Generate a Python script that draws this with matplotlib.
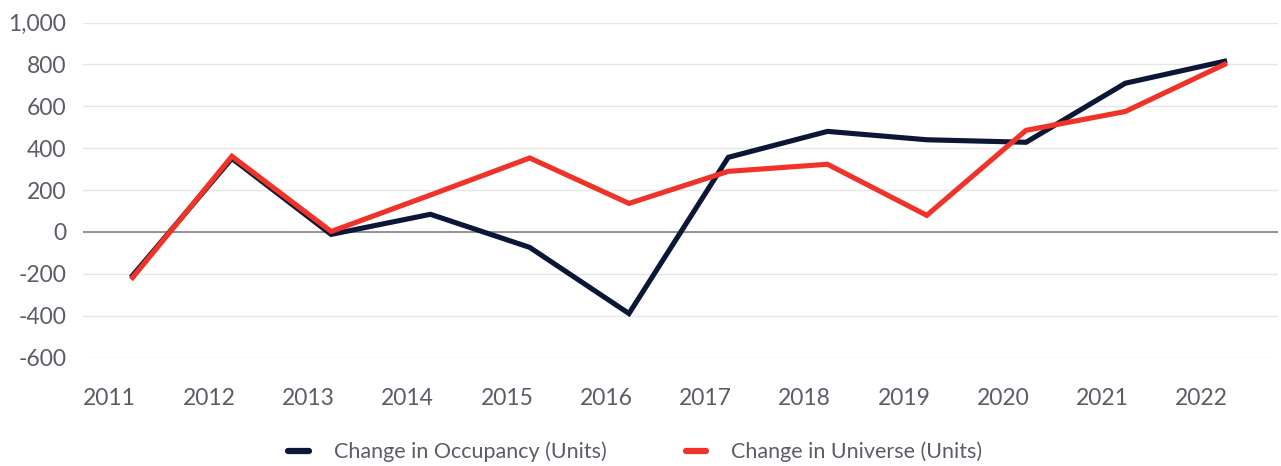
import numpy as np
import matplotlib.pyplot as plt

plt.rcParams['font.family'] = ['Lato', 'DejaVu Sans']

years = ['2011', '2012', '2013', '2014', '2015', '2016',
         '2017', '2018', '2019', '2020', '2021', '2022']
occupancy = [-208, 351, -12, 84, -74, -390, 356, 480, 440, 428, 710, 815]
universe = [-218, 361, 2, 176, 353, 136, 289, 323, 79, 485, 575, 800]

navy = '#0c1738'
red = '#ef3328'
text_col = '#5a5d66'

fig = plt.figure(figsize=(12.81, 4.66), dpi=100)
ax = fig.add_axes([0.0648, 0.2328, 0.933, 0.7189])

x = np.arange(len(years))
ax.plot(x, occupancy, color=navy, lw=3.7, solid_joinstyle='miter', label='Change in Occupancy (Units)', zorder=3)
ax.plot(x, universe, color=red, lw=3.7, solid_joinstyle='miter', label='Change in Universe (Units)', zorder=4)

ax.set_xlim(-0.5, 11.54)
ax.set_ylim(-600, 1000)
ax.set_yticks(np.arange(-600, 1001, 200))
ax.set_yticklabels([f'{v:,}' for v in range(-600, 1001, 200)])
# year labels sit a little left of the points, as in the source chart
ax.set_xticks(x - 0.23)
ax.set_xticklabels(years)

ax.grid(axis='y', color='#e6e6e6', lw=1)
ax.axhline(0, color='#8c8c8c', lw=1.3, zorder=2)
ax.set_axisbelow(True)
for s in ax.spines.values():
    s.set_visible(False)
ax.tick_params(axis='y', length=0, pad=12, labelsize=16.5, labelcolor=text_col)
ax.tick_params(axis='x', length=0, pad=22, labelsize=16.5, labelcolor=text_col)

leg = fig.legend(loc='center', bbox_to_anchor=(0.496, 0.03), ncol=2, frameon=False,
                 fontsize=15.5, handlelength=0.95, columnspacing=3.7, handletextpad=1.15)
for t in leg.get_texts():
    t.set_color(text_col)
for h in leg.get_lines():
    h.set_linewidth(4.5)
    h.set_solid_capstyle('round')

fig.savefig('out.png', dpi=100)
